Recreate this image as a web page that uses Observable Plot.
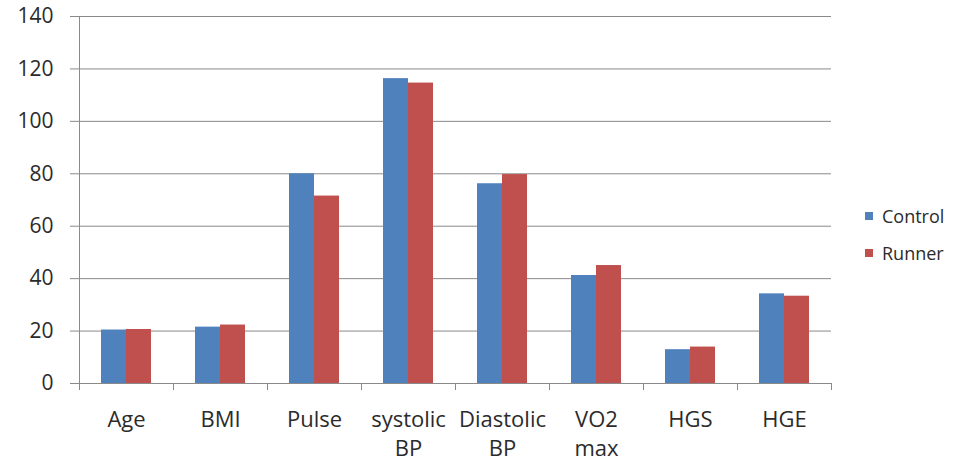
<!DOCTYPE html>
<html>
<head>
<meta charset="utf-8">
<script src="https://cdn.jsdelivr.net/npm/d3@7"></script>
<script src="https://cdn.jsdelivr.net/npm/@observablehq/plot@0.6"></script>
<style>
  html, body { margin: 0; padding: 0; background: #fff; }
  #chart { position: relative; width: 965px; height: 465px; }
  #legend { position: absolute; left: 865px; top: 198px; }
</style>
</head>
<body>
<div id="chart"><div id="legend"></div></div>
<script>
// Group means, control vs. runner
const categories = ["Age", "BMI", "Pulse", "systolic BP", "Diastolic BP", "VO2 max", "HGS", "HGE"];
const seriesNames = ["Control", "Runner"];
const control = [20.4, 21.5, 80, 116.3, 76.2, 41.2, 12.9, 34.2];
const runner  = [20.6, 22.3, 71.5, 114.6, 79.7, 45.0, 13.9, 33.3];
const yTicks = [0, 20, 40, 60, 80, 100, 120, 140];
const colors = ["#4F81BD", "#C0504D"];

const rows = categories.flatMap((cat, i) => [
  {cat, series: seriesNames[0], value: control[i]},
  {cat, series: seriesNames[1], value: runner[i]}
]);

const font = "'Open Sans', 'DejaVu Sans', sans-serif";
const gray = "#8a8a8a";
const textColor = "#2b2b2b";
const height = 465, marginTop = 16, marginBottom = 82;
const innerHeight = height - marginTop - marginBottom;

const chart = Plot.plot({
  width: 965,
  height,
  marginLeft: 77,
  marginRight: 133,
  marginTop,
  marginBottom,
  style: {fontFamily: font, fontSize: "21px", color: textColor, background: "#fff", overflow: "visible"},
  fx: {domain: categories, padding: 0},
  x: {domain: seriesNames, paddingInner: 0, paddingOuter: 0.815, axis: null},
  y: {domain: [0, 140]},
  color: {domain: seriesNames, range: colors},
  marks: [
    Plot.gridY(yTicks, {stroke: gray, strokeOpacity: 1}),
    Plot.barY(rows, {fx: "cat", x: "series", y: "value", fill: "series"}),
    // category boundary ticks under the baseline
    Plot.frame({anchor: "left", stroke: gray, strokeOpacity: 1, insetTop: innerHeight, insetBottom: -6}),
    Plot.frame({anchor: "right", stroke: gray, strokeOpacity: 1, insetTop: innerHeight, insetBottom: -6}),
    // value axis line
    Plot.frame({anchor: "left", facetAnchor: "left", stroke: gray, strokeOpacity: 1, insetBottom: -6}),
    Plot.axisY(yTicks, {
      tickSize: 9, tickPadding: 17, stroke: gray, strokeOpacity: 1,
      fontSize: 21, fill: textColor, label: null, tickFormat: d => String(d)
    }),
    Plot.axisFx({
      anchor: "bottom", tickSize: 0, tickPadding: 23, label: null,
      fontSize: 22, lineHeight: 1.32, fill: textColor,
      tickFormat: d => d.replace(" ", "\n")
    })
  ]
});
document.getElementById("chart").prepend(chart);

const legend = Plot.legend({
  color: {domain: seriesNames, range: colors},
  legend: "swatches",
  columns: 1,
  swatchSize: 8,
  style: {fontFamily: font, fontSize: "18px", lineHeight: "36px", color: textColor}
});
document.getElementById("legend").appendChild(legend);
</script>
</body>
</html>
